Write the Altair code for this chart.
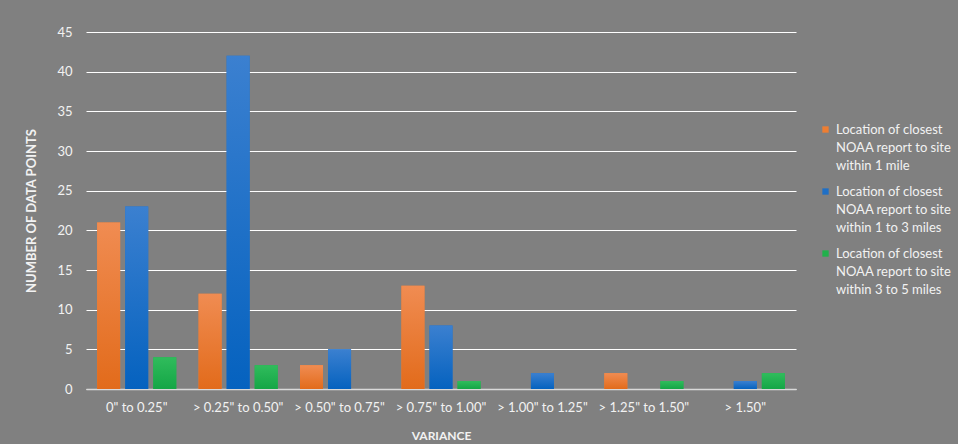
import altair as alt
import pandas as pd

categories = ['0" to 0.25"', '> 0.25" to 0.50"', '> 0.50" to 0.75"', '> 0.75" to 1.00"',
              '> 1.00" to 1.25"', '> 1.25" to 1.50"', '> 1.50"']
series = [
    "Location of closest|NOAA report to site|within 1 mile",
    "Location of closest|NOAA report to site|within 1 to 3 miles",
    "Location of closest|NOAA report to site|within 3 to 5 miles",
]
within_1 = [21, 12, 3, 13, 0, 2, 0]
within_1_3 = [23, 42, 5, 8, 2, 0, 1]
within_3_5 = [4, 3, 0, 1, 0, 1, 2]
colors = ["#EE7E32", "#1F6FC5", "#21B04B"]
grad_top = ["#F08C52", "#3B80D0", "#30BC5C"]
grad_bottom = ["#E26B1B", "#0562BF", "#14A646"]

rows = []
for s, vals in zip(series, [within_1, within_1_3, within_3_5]):
    for c, v in zip(categories, vals):
        rows.append({"Variance": c, "Series": s, "Count": v})
df = pd.DataFrame(rows)

font = "Lato"
txt = "#F2F2F2"

x_enc = alt.X("Variance:N", sort=categories,
              scale=alt.Scale(domain=categories, paddingInner=0.22, paddingOuter=0.11),
              axis=alt.Axis(title="VARIANCE", labelAngle=0, labelPadding=12,
                            ticks=False, domainColor="#D9D9D9", domainWidth=1.5,
                            titlePadding=16, titleFontWeight="bold", titleFontSize=12,
                            labelFontSize=13))
xo_enc = alt.XOffset("Series:N", sort=series,
                     scale=alt.Scale(domain=series, paddingInner=0.18))
y_enc = alt.Y("Count:Q", scale=alt.Scale(domain=[0, 45]),
              axis=alt.Axis(title="NUMBER OF DATA POINTS", values=list(range(0, 50, 5)),
                            domain=False, ticks=False, labelPadding=14,
                            gridColor="#FFFFFF", gridWidth=1, gridOpacity=1,
                            titlePadding=18, titleFontWeight="bold", titleFontSize=13,
                            labelFontSize=13))

base = alt.Chart(df).mark_bar().encode(
    x=x_enc, xOffset=xo_enc, y=y_enc,
    color=alt.Color("Series:N", sort=series,
                    scale=alt.Scale(domain=series, range=colors),
                    legend=alt.Legend(title=None, orient="none", legendX=733, legendY=91,
                                      symbolType="square", symbolSize=40,
                                      symbolStrokeWidth=0, labelFontSize=13,
                                      labelOffset=4,
                                      labelExpr="split(datum.label, '|')",
                                      labelColor=txt, labelFont=font, rowPadding=12,
                                      labelLimit=200)),
)

layers = [base]
for s, top, bot in zip(series, grad_top, grad_bottom):
    layers.append(
        alt.Chart(df).transform_filter(alt.datum.Series == s).mark_bar(
            color=alt.Gradient(gradient="linear",
                               stops=[alt.GradientStop(color=top, offset=0),
                                      alt.GradientStop(color=bot, offset=1)],
                               x1=0, x2=0, y1=0, y2=1)
        ).encode(x=x_enc, xOffset=xo_enc, y=y_enc)
    )

chart = alt.layer(*layers).properties(
    width=710, height=357,
    autosize=alt.AutoSizeParams(type="none"),
    padding={"left": 86, "top": 32, "right": 162, "bottom": 55},
).configure(
    background="#808080", font=font,
    style={"guide-label": {"lineHeight": 18}},
).configure_view(
    stroke=None, fill="#808080",
).configure_axis(
    labelColor=txt, titleColor=txt, labelFont=font, titleFont=font,
)

chart.save("out.html", embed_options={"renderer": "svg", "actions": False})
